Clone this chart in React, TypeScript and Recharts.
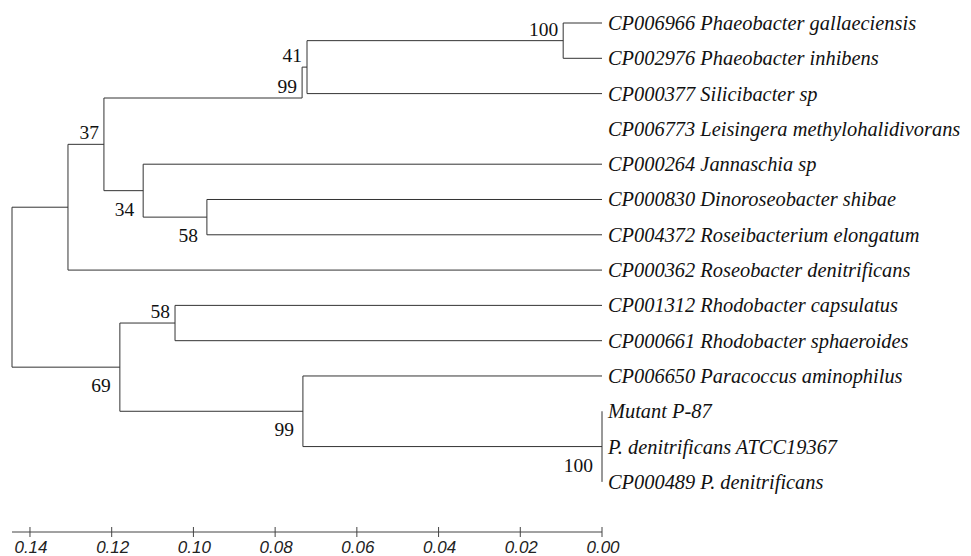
import React from 'react';
import { ScatterChart, Scatter, XAxis, YAxis } from 'recharts';

const leafNames = [
  'CP006966 Phaeobacter gallaeciensis',
  'CP002976 Phaeobacter inhibens',
  'CP000377 Silicibacter sp',
  'CP006773 Leisingera methylohalidivorans',
  'CP000264 Jannaschia sp',
  'CP000830 Dinoroseobacter shibae',
  'CP004372 Roseibacterium elongatum',
  'CP000362 Roseobacter denitrificans',
  'CP001312 Rhodobacter capsulatus',
  'CP000661 Rhodobacter sphaeroides',
  'CP006650 Paracoccus aminophilus',
  'Mutant P-87',
  'P. denitrificans ATCC19367',
  'CP000489 P. denitrificans',
];

const nodeIds = ['n100a', 'n41', 'n99a', 'n58a', 'n34', 'n37', 'nUp', 'n58b', 'n100b', 'n99b', 'n69', 'root'];
const nodeHeights = [0.0095, 0.0722, 0.0734, 0.0967, 0.1123, 0.1219, 0.1307, 0.1045, 0, 0.0732, 0.118, 0.1444];
const nodeChildren = [
  ['L0', 'L1'],
  ['n100a', 'L2'],
  ['n41', 'L3'],
  ['L5', 'L6'],
  ['L4', 'n58a'],
  ['n99a', 'n34'],
  ['n37', 'L7'],
  ['L8', 'L9'],
  ['L11', 'L12', 'L13'],
  ['L10', 'n100b'],
  ['n58b', 'n99b'],
  ['nUp', 'n69'],
];
const bootstrapValues = ['100', '41', '99', '58', '34', '37', '', '58', '100', '99', '69', ''];
const bootstrapSide = ['above', 'above', 'above', 'below', 'below', 'above', '', 'above', 'below', 'below', 'below', ''];
const hiddenBranches = ['L3'];
const scaleTicks = [0, 0.02, 0.04, 0.06, 0.08, 0.1, 0.12, 0.14];

const pos: Record<string, { x: number; y: number }> = {};
leafNames.forEach((n, i) => {
  pos['L' + i] = { x: 0, y: i };
});
nodeIds.forEach((id, i) => {
  const ch = nodeChildren[i];
  const y = (pos[ch[0]].y + pos[ch[ch.length - 1]].y) / 2;
  pos[id] = { x: nodeHeights[i], y };
});

const segments: { x: number; y: number }[][] = [];
nodeIds.forEach((id, i) => {
  const p = pos[id];
  const vis = nodeChildren[i].filter((c) => !hiddenBranches.includes(c));
  const ys = [...vis.map((c) => pos[c].y), p.y];
  segments.push([
    { x: p.x, y: Math.min(...ys) },
    { x: p.x, y: Math.max(...ys) },
  ]);
  vis.forEach((c) =>
    segments.push([
      { x: p.x, y: pos[c].y },
      { x: pos[c].x, y: pos[c].y },
    ])
  );
});

const leafData = leafNames.map((name, i) => ({ x: 0, y: i, name }));
const nodeLabelData = nodeIds
  .map((id, i) => ({ x: pos[id].x, y: pos[id].y, label: bootstrapValues[i], side: bootstrapSide[i] }))
  .filter((d) => d.label !== '');

const serif = "'Liberation Serif', 'Times New Roman', serif";
const sans = "'Liberation Sans', Arial, sans-serif";

const LeafLabel = (props: any) => (
  <text x={props.cx + 6} y={props.cy + 7} fontFamily={serif} fontStyle="italic" fontSize={20.4} fill="#111">
    {props.payload.name}
  </text>
);

const NodeLabel = (props: any) => {
  const below = props.payload.side === 'below';
  return (
    <text
      x={props.cx - (below ? 9 : 5)}
      y={props.cy + (below ? 25 : -5)}
      textAnchor="end"
      fontFamily={serif}
      fontSize={19.5}
      fill="#111"
    >
      {props.payload.label}
    </text>
  );
};

const AxisTick = (props: any) => {
  const { x, y, payload } = props;
  return (
    <g>
      <line x1={x} x2={x} y1={y - 5} y2={y + 5} stroke="#444" />
      <text x={x + 1} y={y + 21} textAnchor="middle" fontFamily={sans} fontStyle="italic" fontSize={17} fill="#222">
        {Number(payload.value).toFixed(2)}
      </text>
    </g>
  );
};

const Empty = () => <g />;

export default function App() {
  return (
    <div style={{ width: 963, height: 548 }}>
      <ScatterChart width={963} height={548} margin={{ top: 15, right: 369, bottom: 0, left: 4 }}>
        <XAxis
          type="number"
          dataKey="x"
          domain={[0, 0.1444]}
          reversed
          ticks={scaleTicks}
          interval={0}
          tickLine={false}
          tickSize={0}
          tickMargin={0}
          height={24}
          axisLine={{ stroke: '#444' }}
          tick={<AxisTick />}
        />
        <YAxis type="number" dataKey="y" domain={[0, 14.42]} reversed hide />
        {segments.map((seg, i) => (
          <Scatter
            key={'s' + i}
            data={seg}
            line={{ stroke: '#333', strokeWidth: 1 }}
            shape={<Empty />}
            isAnimationActive={false}
          />
        ))}
        <Scatter data={leafData} shape={<LeafLabel />} isAnimationActive={false} />
        <Scatter data={nodeLabelData} shape={<NodeLabel />} isAnimationActive={false} />
      </ScatterChart>
    </div>
  );
}
